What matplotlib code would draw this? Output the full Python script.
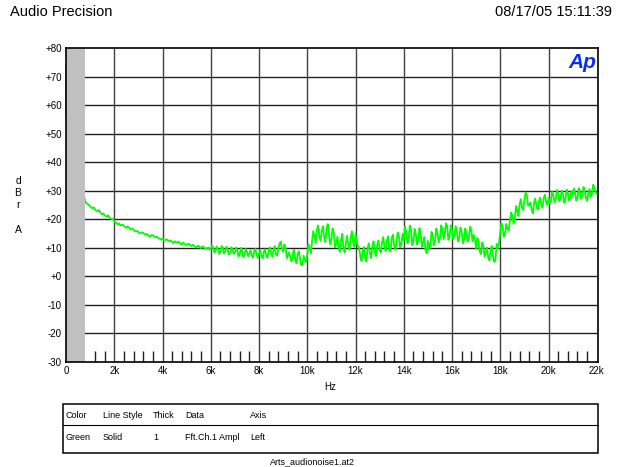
"""Audio Precision FFT noise sweep, redrawn."""

import matplotlib
matplotlib.use("Agg")
import matplotlib.pyplot as plt
import matplotlib as mpl
import numpy as np

mpl.rcParams.update({
    "font.family": ["Liberation Sans", "DejaVu Sans"],
    "xtick.labelsize": 7,
    "ytick.labelsize": 7,
})

# DC bin (drawn at 0 Hz) and the FFT trace
DC_FREQ = [0, 0]
DC_LEVEL = [74.0, 57.0]
# bins at 800, 900, ... 22000 Hz
FREQ_START, FREQ_STEP = 800, 100
LEVEL = [
    26.2, 25.3,
    24.6, 23.9, 23.5, 22.8, 22.6, 21.8, 21.5, 21.0, 20.6, 20.1,
    19.3, 18.6, 18.5, 17.9, 17.7, 17.0, 17.2, 16.4, 16.3, 15.7,
    15.6, 15.1, 15.2, 14.6, 14.4, 14.1, 14.4, 13.6, 13.6, 13.2,
    13.1, 12.6, 12.9, 12.3, 12.0, 12.3, 11.7, 11.9, 11.2, 11.6,
    11.0, 11.4, 10.6, 10.8, 10.1, 10.7, 9.9, 10.4, 9.6, 10.1,
    9.4, 10.1, 9.0, 9.6, 8.7, 9.9, 8.9, 9.3, 8.4, 9.5,
    8.3, 9.2, 7.8, 8.9, 7.6, 8.7, 8.0, 7.3, 8.8, 7.5,
    7.9, 7.2, 8.6, 7.0, 8.9, 8.2, 9.3, 7.6, 9.8, 12.2,
    8.6, 10.1, 7.4, 6.5, 8.2, 5.9, 7.6, 6.2, 4.0, 5.5,
    7.5, 9.8, 12.4, 14.0, 16.5, 14.2, 15.8, 13.6, 16.9, 14.4,
    13.0, 15.2, 11.4, 10.4, 12.8, 9.9, 11.6, 10.8, 13.5, 11.9,
    15.1, 10.6, 6.8, 8.9, 6.5, 9.8, 7.9, 10.8, 8.6, 11.2,
    9.2, 11.9, 10.2, 12.6, 9.6, 13.3, 10.9, 12.1, 13.9, 11.4,
    12.5, 15.6, 13.0, 16.4, 12.2, 14.8, 12.6, 15.1, 11.7, 9.3,
    12.4, 10.8, 14.2, 12.6, 15.0, 13.4, 16.8, 14.9, 17.5, 14.3,
    16.2, 14.4, 15.9, 13.5, 15.6, 12.9, 15.1, 13.8, 16.0, 14.5,
    9.6, 12.1, 7.8, 10.6, 8.3, 6.5, 9.4, 7.1, 5.8, 9.9,
    15.5, 17.2, 14.9, 16.8, 19.6, 21.3, 19.9, 23.0, 25.1, 24.0,
    26.8, 28.3, 24.9, 23.2, 25.8, 24.4, 26.1, 25.2, 27.4, 26.0,
    27.5, 26.3, 28.4, 27.1, 29.0, 27.6, 28.8, 26.9, 29.2, 27.8,
    28.1, 29.4, 27.3, 29.8, 28.5, 30.2, 26.4, 30.6, 29.0, 31.2,
    28.9,
]
# in-between bins at 850, 950, ... 21950 Hz
HALF_START = 850
LEVEL_HALF = [
    25.6, 24.9,
    24.1, 24.2, 23.0, 23.3, 22.1, 22.0, 21.1, 21.4, 20.2, 20.0,
    18.9, 18.1, 18.0, 18.2, 17.3, 17.5, 16.7, 16.8, 15.9, 15.9,
    15.2, 15.4, 14.8, 14.9, 14.0, 14.5, 13.9, 14.0, 13.3, 12.9,
    12.7, 12.9, 12.4, 12.6, 11.7, 12.0, 12.2, 11.4, 11.8, 11.1,
    11.3, 10.9, 11.0, 10.4, 10.6, 10.2, 10.5, 9.8, 9.9, 9.5,
    10.8, 8.4, 10.5, 7.9, 10.6, 8.0, 10.4, 7.6, 10.2, 7.9,
    10.1, 7.0, 10.0, 6.8, 9.6, 7.1, 9.2, 6.6, 9.6, 6.4,
    9.0, 6.3, 9.5, 6.5, 10.2, 6.9, 10.6, 7.2, 11.4, 9.6,
    11.2, 6.4, 8.5, 5.2, 9.3, 4.6, 8.8, 3.9, 7.2, 5.0,
    11.2, 8.1, 15.9, 11.6, 17.8, 12.4, 17.6, 12.0, 18.3, 11.2,
    16.8, 10.1, 13.9, 8.6, 14.9, 8.4, 14.2, 9.3, 15.8, 10.4,
    12.2, 9.9, 5.4, 10.3, 5.2, 11.6, 6.4, 12.3, 7.1, 12.6,
    8.4, 13.8, 8.9, 14.1, 8.7, 14.6, 9.3, 15.4, 10.2, 14.9,
    17.4, 11.6, 17.8, 10.9, 16.6, 11.1, 16.9, 10.3, 13.8, 8.1,
    9.4, 15.6, 10.9, 16.8, 11.9, 17.9, 13.1, 18.6, 12.8, 17.9,
    13.1, 17.6, 12.2, 17.1, 11.6, 16.8, 12.1, 17.4, 12.3, 13.2,
    13.4, 8.6, 11.9, 6.9, 10.1, 5.6, 10.6, 5.1, 11.4, 11.8,
    18.6, 13.8, 18.3, 16.1, 22.4, 18.4, 24.6, 21.2, 27.1, 23.2,
    29.4, 24.8, 25.9, 22.1, 27.3, 23.4, 27.6, 24.1, 28.6, 25.0,
    25.6, 29.6, 25.9, 30.3, 26.2, 30.1, 25.8, 30.4, 26.5, 29.9,
    30.8, 26.5, 30.9, 27.1, 31.3, 27.5, 29.2, 28.0, 32.1, 29.6,
]

Y_TICKS = [-30, -20, -10, 0, 10, 20, 30, 40, 50, 60, 70, 80]
X_TICKS = [0, 2000, 4000, 6000, 8000, 10000, 12000, 14000, 16000, 18000, 20000, 22000]
X_TICK_LABELS = ["0", "2k", "4k", "6k", "8k", "10k", "12k", "14k", "16k", "18k", "20k", "22k"]
MASK_HZ = 790

LEGEND_HEAD = ["Color", "Line Style", "Thick", "Data", "Axis"]
LEGEND_ROW = ["Green", "Solid", "1", "Fft.Ch.1 Ampl", "Left"]


def main():
    W, H = 626, 467
    fig = plt.figure(figsize=(W / 100, H / 100), dpi=100)
    ax = fig.add_axes([66 / W, 1 - 362 / H, (598 - 66) / W, (362 - 48) / H])

    f_main = [FREQ_START + i * FREQ_STEP for i in range(len(LEVEL))]
    f_half = [HALF_START + i * FREQ_STEP for i in range(len(LEVEL_HALF))]
    f = np.array(f_main + f_half)
    lv = np.array(LEVEL + LEVEL_HALF)
    order = np.argsort(f, kind="stable")
    freq = np.concatenate([DC_FREQ, f[order]])
    level = np.concatenate([DC_LEVEL, lv[order]])

    ax.plot(freq, level, color="#00ff00", lw=1.3, zorder=2, clip_on=False)
    ax.axvspan(0, MASK_HZ, color="#c0c0c0", lw=0, zorder=3)

    ax.set_xlim(0, 22050)
    ax.set_ylim(-30, 80)

    for y in Y_TICKS[1:-1]:
        ax.axhline(y, color="#202020", lw=1.0, zorder=1)
    for x in X_TICKS[1:-1]:
        ax.axvline(x, color="#404040", lw=1.0, zorder=1)

    ax.set_yticks(Y_TICKS)
    ax.set_yticklabels([f"{v:+d}" if v >= 0 else str(v) for v in Y_TICKS])
    ax.set_xticks(X_TICKS)
    ax.set_xticklabels(X_TICK_LABELS)
    minor = [f for f in range(1200, 22050, 400) if f % 2000]
    ax.set_xticks(minor, minor=True)
    ax.tick_params(axis="both", which="major", length=0, pad=3)
    ax.tick_params(axis="x", which="minor", direction="in", length=8, width=1,
                   color="#202020", top=False)
    for s in ax.spines.values():
        s.set_linewidth(1.2)
        s.set_zorder(4)

    # overlay in pixel coordinates for the page furniture
    ov = fig.add_axes([0, 0, 1, 1])
    ov.set_xlim(0, W)
    ov.set_ylim(H, 0)
    ov.axis("off")
    ov.patch.set_visible(False)

    ov.text(10, 12, "Audio Precision", fontsize=10.5, va="center", ha="left")
    ov.text(612, 12, "08/17/05 15:11:39", fontsize=10.5, va="center", ha="right")
    ov.text(582, 62, "Ap", fontsize=15, color="#0a2ff0", fontweight="bold",
            fontstyle="italic", ha="center", va="center")
    ov.text(330, 387, "Hz", fontsize=7, ha="center", va="center")
    for ch, yy in zip(["d", "B", "r", "A"], [181, 193, 205, 230]):
        ov.text(18, yy, ch, fontsize=7.5, ha="center", va="center")

    ov.add_patch(plt.Rectangle((63, 404), 598 - 63, 49, fill=False, lw=1.1,
                               edgecolor="black"))
    ov.plot([63, 598], [425, 425], color="black", lw=0.8)
    cols = [66, 103, 153, 185, 250]
    for x, head, val in zip(cols, LEGEND_HEAD, LEGEND_ROW):
        ov.text(x, 415, head, fontsize=6.5, va="center", ha="left")
        ov.text(x, 437, val, fontsize=6.5, va="center", ha="left")
    ov.text(312, 462, "Arts_audionoise1.at2", fontsize=6.5, ha="center", va="center")

    fig.savefig("out.png", dpi=100)


if __name__ == "__main__":
    main()
